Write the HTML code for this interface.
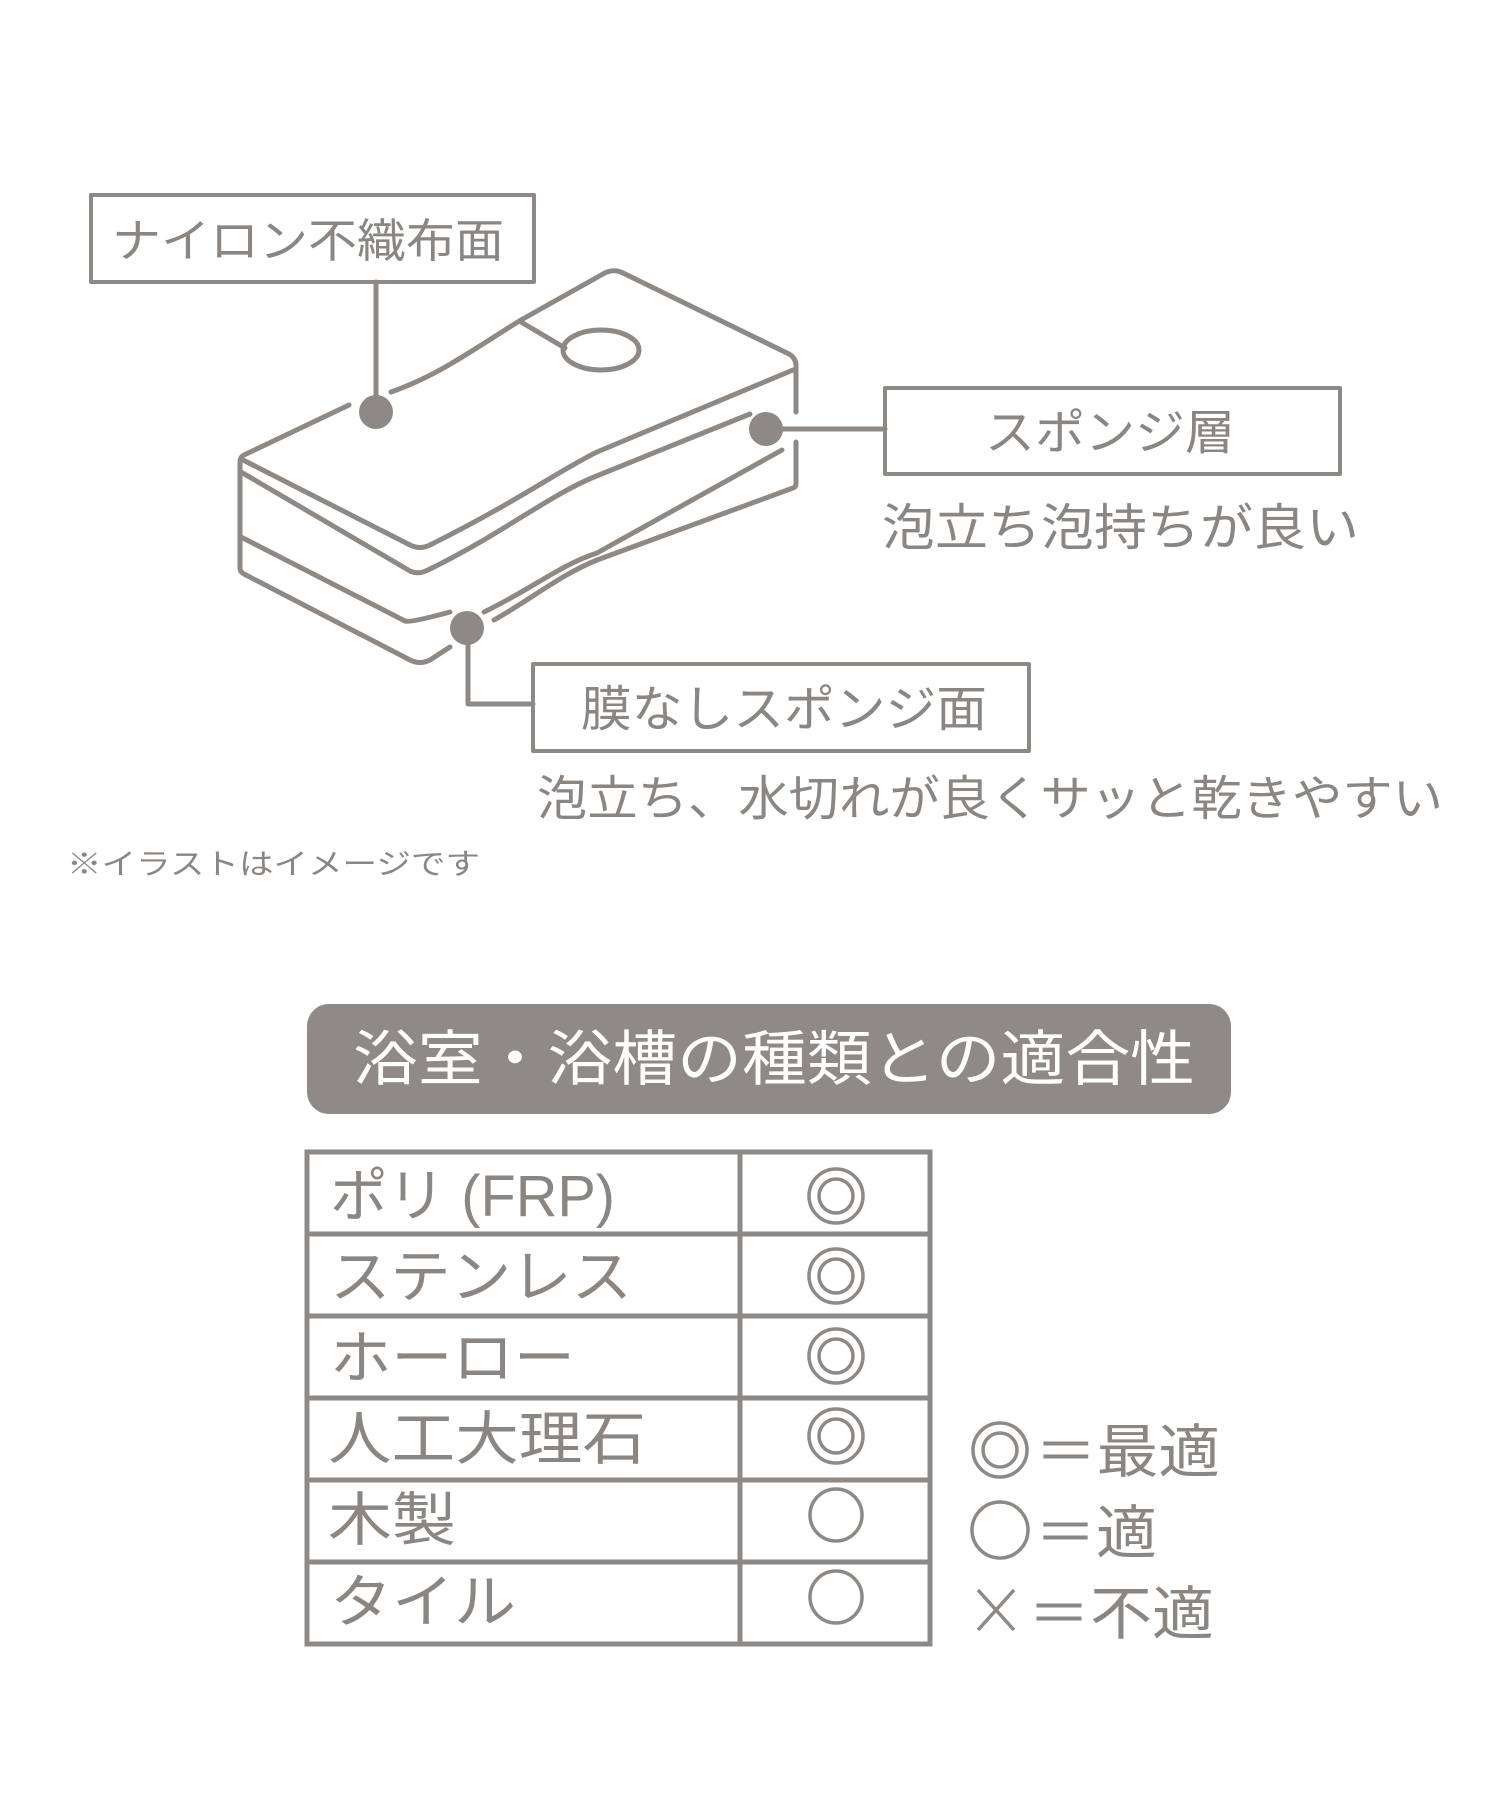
<!DOCTYPE html>
<html><head><meta charset="utf-8"><style>
html,body{margin:0;padding:0;background:#fff;width:1500px;height:1800px;overflow:hidden}
svg{display:block}
text{font-family:"Liberation Sans","Noto Sans CJK JP",sans-serif;fill:#8b8682}
</style></head><body>
<svg width="1500" height="1800" viewBox="0 0 1500 1800" xmlns="http://www.w3.org/2000/svg">
<g fill="none" stroke="#8e8985" stroke-width="5" stroke-linecap="round" stroke-linejoin="round">
<rect x="91" y="195" width="443" height="87" stroke-width="4"/>
<rect x="885" y="388" width="455" height="86" stroke-width="4"/>
<rect x="533" y="664" width="496" height="87" stroke-width="4"/>
<line x1="376" y1="282" x2="376" y2="412" stroke-width="5"/>
<line x1="766" y1="429" x2="885" y2="429" stroke-width="5"/>
<polyline points="468,628 468,704 533,704" stroke-width="5"/>
<path d="M349,405 L244,455 Q240,457 240,462 L240,568 Q240,572 244,574 L410,660 Q420,665 430,660 L450,647"/>
<path d="M391,392 C440,375 480,345 521,320 L603,274 Q613,268 623,273 L789,354 Q796,358 796,366 L796,412"/>
<path d="M796,442 L796,484 Q796,487 793,488 L597,560 C560,575 530,600 494,620"/>
<path d="M243,460 L410,545 Q420,550 430,545 C520,500 560,470 597,452 L793,370"/>
<path d="M241,472 L410,571 Q418,575 428,570 C500,535 550,495 594,477 L750,414"/>
<path d="M241,537 L405,621 Q410,623 450,612"/>
<path d="M484,612 C530,590 560,565 597,553 L782,450"/>
<path d="M521,322 L565,348"/>
<ellipse cx="601" cy="350" rx="38" ry="20"/>
</g>
<g fill="#8e8985">
<circle cx="376" cy="412" r="17"/>
<circle cx="766" cy="429" r="17"/>
<circle cx="467" cy="628" r="17"/>
</g>
<text x="112" y="257" font-size="46" textLength="392" lengthAdjust="spacingAndGlyphs">ナイロン不織布面</text>
<text x="985" y="449" font-size="48" textLength="250" lengthAdjust="spacingAndGlyphs">スポンジ層</text>
<text x="882" y="545" font-size="50" textLength="477" lengthAdjust="spacingAndGlyphs">泡立ち泡持ちが良い</text>
<text x="581" y="726" font-size="49" textLength="406" lengthAdjust="spacingAndGlyphs">膜なしスポンジ面</text>
<text x="537" y="815" font-size="48" textLength="906" lengthAdjust="spacingAndGlyphs">泡立ち、水切れが良くサッと乾きやすい</text>
<text x="67" y="874" font-size="29" textLength="413" lengthAdjust="spacingAndGlyphs">※イラストはイメージです</text>
<rect x="307" y="1004" width="924" height="110" rx="22" fill="#8f8a85"/>
<text x="353" y="1080" font-size="60" style="fill:#fff" textLength="842" lengthAdjust="spacingAndGlyphs">浴室・浴槽の種類との適合性</text>
<g fill="none" stroke="#8e8985" stroke-width="5">
<rect x="307" y="1152" width="623" height="492"/>
<line x1="740" y1="1152" x2="740" y2="1644"/>
<line x1="307" y1="1234" x2="930" y2="1234"/>
<line x1="307" y1="1316" x2="930" y2="1316"/>
<line x1="307" y1="1398" x2="930" y2="1398"/>
<line x1="307" y1="1480" x2="930" y2="1480"/>
<line x1="307" y1="1562" x2="930" y2="1562"/>
</g>
<g fill="none" stroke="#8e8985" stroke-width="3.5">
<ellipse cx="836" cy="1196" rx="27" ry="27"/><ellipse cx="836" cy="1196" rx="17" ry="17"/>
<ellipse cx="836" cy="1276" rx="27" ry="27"/><ellipse cx="836" cy="1276" rx="17" ry="17"/>
<ellipse cx="836" cy="1356" rx="27" ry="27"/><ellipse cx="836" cy="1356" rx="17" ry="17"/>
<ellipse cx="836" cy="1436" rx="27" ry="27"/><ellipse cx="836" cy="1436" rx="17" ry="17"/>
<ellipse cx="836" cy="1515" rx="26" ry="26"/>
<ellipse cx="836" cy="1597" rx="26" ry="26"/>
<ellipse cx="1000" cy="1450" rx="27" ry="27"/><ellipse cx="1000" cy="1450" rx="17" ry="17"/>
<ellipse cx="1000" cy="1530" rx="28" ry="28"/>
<line x1="978" y1="1590" x2="1014" y2="1630"/>
<line x1="1014" y1="1590" x2="978" y2="1630"/>
</g>
<g font-size="58">
<text x="330" y="1216" textLength="285" lengthAdjust="spacingAndGlyphs">ポリ (FRP)</text>
<text x="330" y="1297" textLength="302" lengthAdjust="spacingAndGlyphs">ステンレス</text>
<text x="330" y="1378" textLength="245" lengthAdjust="spacingAndGlyphs">ホーロー</text>
<text x="328" y="1459" textLength="318" lengthAdjust="spacingAndGlyphs">人工大理石</text>
<text x="328" y="1540" textLength="128" lengthAdjust="spacingAndGlyphs">木製</text>
<text x="330" y="1622" textLength="186" lengthAdjust="spacingAndGlyphs">タイル</text>
<text x="1035" y="1472" textLength="185" lengthAdjust="spacingAndGlyphs">＝最適</text>
<text x="1035" y="1553" textLength="122" lengthAdjust="spacingAndGlyphs">＝適</text>
<text x="1028" y="1634" textLength="186" lengthAdjust="spacingAndGlyphs">＝不適</text>
</g>
</svg>
</body></html>
